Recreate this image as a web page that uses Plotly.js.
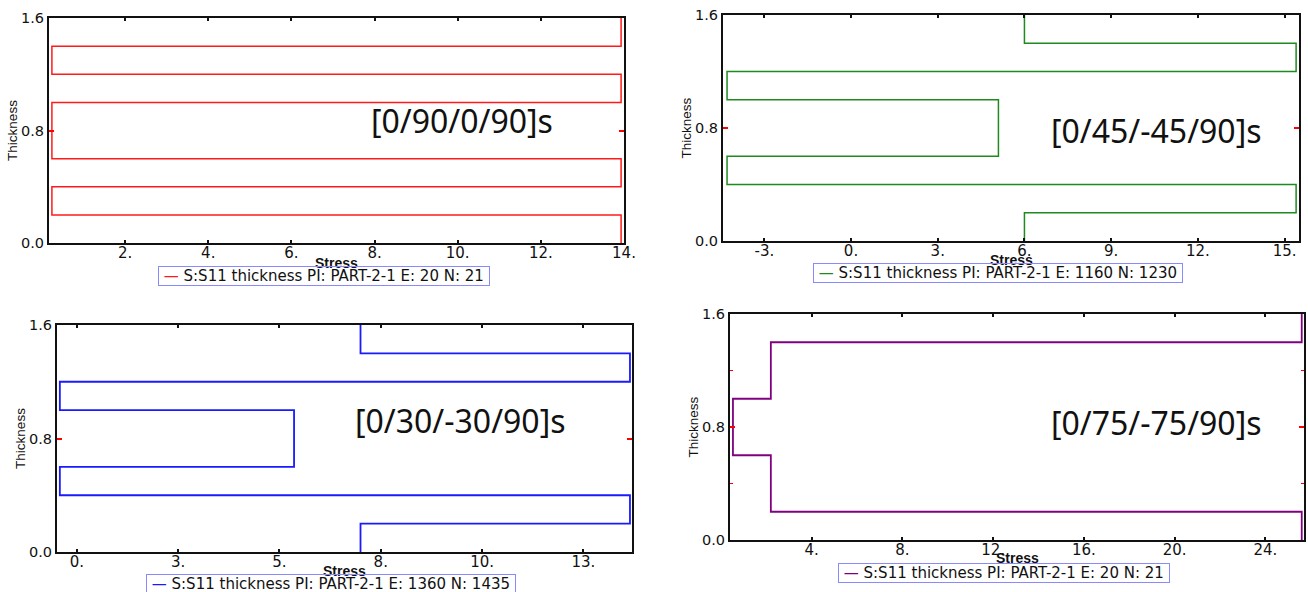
<!DOCTYPE html>
<html><head><meta charset="utf-8">
<script src="https://cdn.plot.ly/plotly-3.0.1.min.js"></script>
<style>html,body{margin:0;padding:0;background:#fff;} #chart{width:1308px;height:592px;}</style>
</head><body><div id="chart"></div>
<script>
// Ply boundaries through the thickness (8 plies of 0.2)
const plyBounds = [0, 0.2, 0.4, 0.6, 0.8, 1.0, 1.2, 1.4, 1.6];
// S11 stress in each ply, bottom to top
const stress_0_90 = [13.93, 0.24, 13.93, 0.24, 0.24, 13.93, 0.24, 13.93];
const stress_0_45 = [6.0, 15.4, -4.29, 5.1, 5.1, -4.29, 15.4, 6.0];
const stress_0_30 = [7.0, 13.65, -0.42, 5.36, 5.36, -0.42, 13.65, 7.0];
const stress_0_75 = [25.6, 2.2, 2.2, 0.53, 0.53, 2.2, 2.2, 25.6];

const layups = ['[0/90/0/90]s', '[0/45/-45/90]s', '[0/30/-30/90]s', '[0/75/-75/90]s'];
const legendLabels = [
  'S:S11 thickness PI: PART-2-1 E: 20 N: 21',
  'S:S11 thickness PI: PART-2-1 E: 1160 N: 1230',
  'S:S11 thickness PI: PART-2-1 E: 1360 N: 1435',
  'S:S11 thickness PI: PART-2-1 E: 20 N: 21'
];
const xTitle = 'Stress';
const yTitle = 'Thickness';
const xTickVals1 = [2, 4, 6, 8, 10, 12, 14];
const xTickText1 = ['2.', '4.', '6.', '8.', '10.', '12.', '14.'];
const xTickVals2 = [-3, 0, 3, 6, 9, 12, 15];
const xTickText2 = ['-3.', '0.', '3.', '6.', '9.', '12.', '15.'];
const xTickVals3 = [0, 2.5, 5, 7.5, 10, 12.5];
const xTickText3 = ['0.', '3.', '5.', '8.', '10.', '13.'];
const xTickVals4 = [4, 8, 12, 16, 20, 24];
const xTickText4 = ['4.', '8.', '12.', '16.', '20.', '24.'];
const yTickVals = [0, 0.8, 1.6];
const yTickText = ['0.0', '0.8', '1.6'];

const W = 1308, H = 592;

function stepPath(stress) {
  const xs = [], ys = [];
  for (let i = 0; i < stress.length; i++) {
    xs.push(stress[i], stress[i]);
    ys.push(plyBounds[i], plyBounds[i + 1]);
  }
  return {xs, ys};
}

const panels = [
  {stress: stress_0_90, color: '#ff1a1a', width: 1.5, tv: xTickVals1, tt: xTickText1, range: [0.17, 14.0],
   box: [49, 624, 18, 243], label: [462, 120], leg: [324, 276], st: 20},
  {stress: stress_0_45, color: '#1f8a1f', width: 1.5, tv: xTickVals2, tt: xTickText2, range: [-4.43, 15.5],
   box: [723, 1299, 15, 241], label: [1156, 130], leg: [998, 273], st: 19},
  {stress: stress_0_30, color: '#1a1aff', width: 1.8, tv: xTickVals3, tt: xTickText3, range: [-0.49, 13.7],
   box: [57, 632, 325, 552], label: [460, 420], leg: [331, 584], st: 19},
  {stress: stress_0_75, color: '#800080', width: 1.8, tv: xTickVals4, tt: xTickText4, range: [0.4, 25.7],
   box: [730, 1304, 314, 540], label: [1156, 423], leg: [1004, 573], st: 18}
];

const traces = [];
const layout = {
  width: W, height: H,
  margin: {l: 0, r: 0, t: 0, b: 0},
  paper_bgcolor: '#fff', plot_bgcolor: '#fff',
  showlegend: false,
  font: {family: 'DejaVu Sans', size: 14, color: '#111'},
  annotations: []
};

panels.forEach((p, i) => {
  const n = i === 0 ? '' : String(i + 1);
  const path = stepPath(p.stress);
  traces.push({
    type: 'scatter', mode: 'lines', x: path.xs, y: path.ys,
    xaxis: 'x' + n, yaxis: 'y' + n,
    name: legendLabels[i],
    line: {color: p.color, width: p.width},
    hoverinfo: 'x+y'
  });
  const [l, r, t, b] = p.box;
  layout['xaxis' + n] = {
    domain: [l / W, r / W], anchor: 'y' + n, range: p.range,
    showgrid: false, zeroline: false,
    showline: true, linecolor: '#111', linewidth: 2, mirror: 'ticks',
    ticks: 'inside', ticklen: 3, tickwidth: 2, tickcolor: '#111',
    tickvals: p.tv, ticktext: p.tt, ticklabelstandoff: -5,
    tickfont: {family: 'DejaVu Sans', size: 15, color: '#111'},
    automargin: false
  };
  layout['yaxis' + n] = {
    domain: [1 - b / H, 1 - t / H], anchor: 'x' + n, range: [0, 1.6],
    showgrid: false, zeroline: false,
    showline: true, linecolor: '#111', linewidth: 2, mirror: 'ticks',
    ticks: 'inside', ticklen: 5, tickwidth: 2, tickcolor: '#ff0000',
    tickvals: yTickVals, ticktext: yTickText,
    tickfont: {family: 'DejaVu Sans', size: 14.5, color: '#111'},
    minor: i === 3 ? {tickvals: [0.4, 1.2], ticks: 'inside', ticklen: 3, tickcolor: '#ff0000', tickwidth: 1} : undefined,
    title: {text: yTitle, font: {family: 'Liberation Sans', size: 13.5, color: '#111'}, standoff: 0},
    automargin: false
  };
  // x-axis title (placed as annotation so it can sit tight under tick labels like the reference)
  layout.annotations.push({
    xref: 'x' + n + ' domain', yref: 'y' + n + ' domain', x: 0.5, y: 0, yshift: -p.st,
    xanchor: 'center', yanchor: 'middle', showarrow: false,
    text: '<b>' + xTitle + '</b>', font: {family: 'Liberation Sans', size: 14, color: '#111'}
  });
  layout.annotations.push({
    xref: 'paper', yref: 'paper', x: p.label[0] / W, y: 1 - p.label[1] / H,
    xanchor: 'center', yanchor: 'middle', showarrow: false,
    text: layups[i], font: {family: 'Noto Sans', size: 32, color: '#111'}
  });
  layout.annotations.push({
    xref: 'paper', yref: 'paper', x: p.leg[0] / W, y: 1 - p.leg[1] / H,
    xanchor: 'center', yanchor: 'middle', showarrow: false,
    text: '\u00a0<span style="color:' + p.color + '">\u2014</span> ' + legendLabels[i] + '\u00a0',
    font: {family: 'DejaVu Sans', size: 15, color: '#111'},
    bordercolor: '#8a8aff', borderwidth: 1, borderpad: 0
  });
});

Plotly.newPlot('chart', traces, layout, {displayModeBar: false, staticPlot: true});
</script>
</body></html>
